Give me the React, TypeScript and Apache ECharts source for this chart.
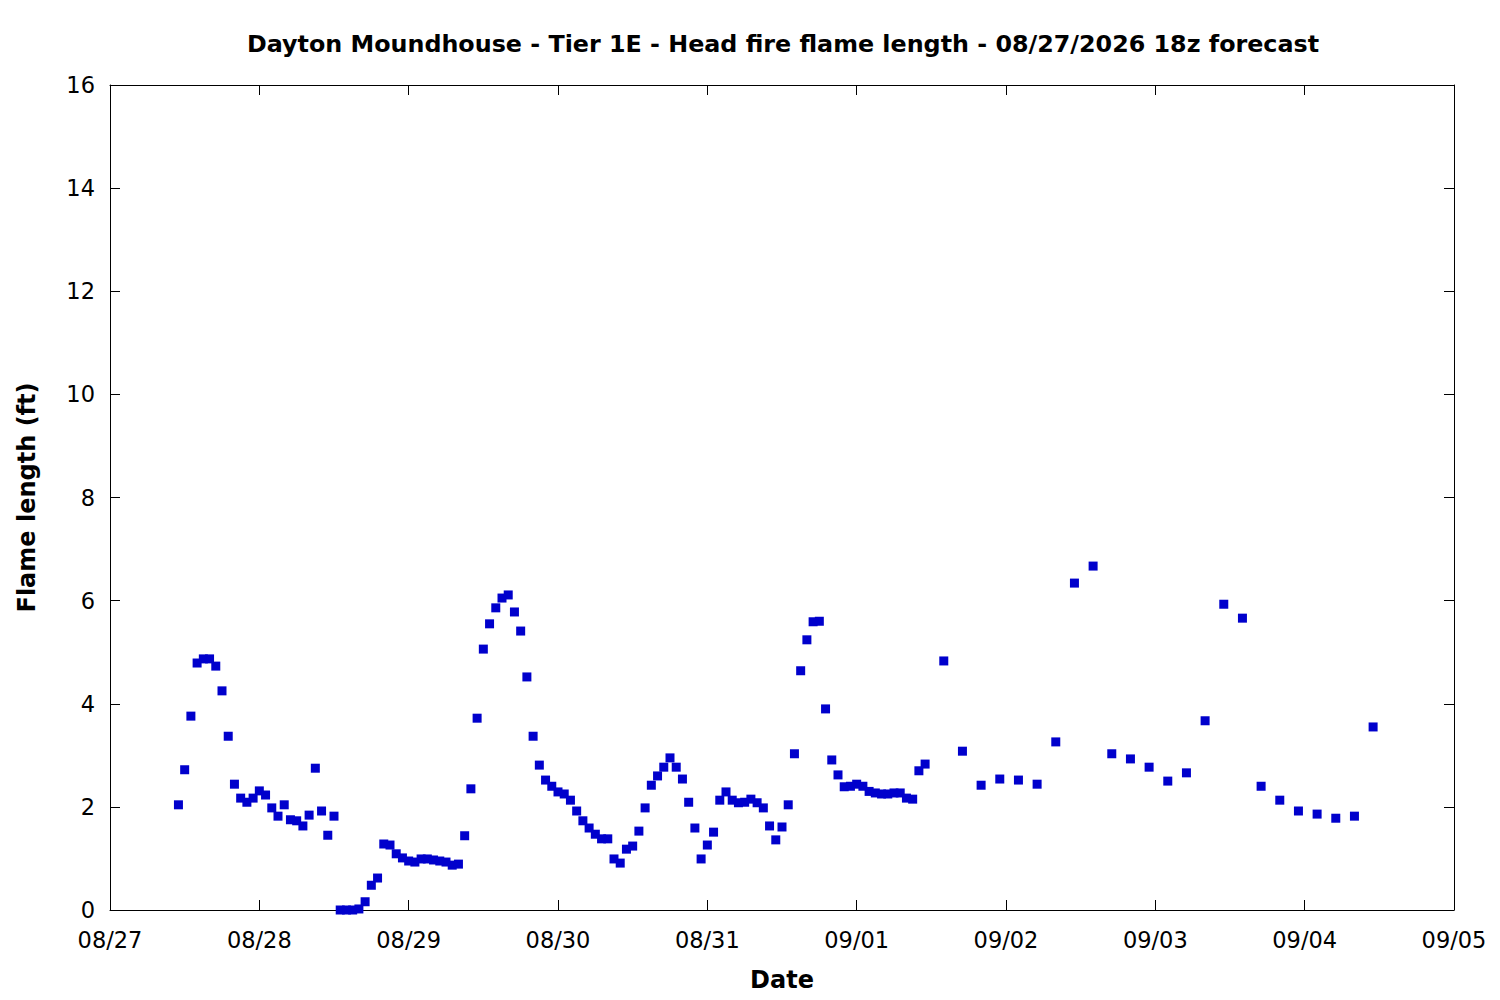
import React, { useEffect, useRef } from "react";
import * as echarts from "echarts";

const TITLE = "Dayton Moundhouse - Tier 1E - Head fire flame length - 08/27/2026 18z forecast";
const X_NAME = "Date";
const Y_NAME = "Flame length (ft)";

// x tick labels, one per day starting at 08/27 00:00 (hour 0)
const DAY_LABELS = ["08/27", "08/28", "08/29", "08/30", "08/31", "09/01", "09/02", "09/03", "09/04", "09/05"];

// hourly forecast, first point at hour 11 after 08/27 00:00
const HOURLY_START_HOUR = 11;
const hourlyValues = [
  2.04, 2.72, 3.76, 4.79, 4.87, 4.87, 4.73, 4.25, 3.37, 2.44,
  2.17, 2.09, 2.17, 2.31, 2.23, 1.98, 1.82, 2.04, 1.75, 1.73,
  1.63, 1.84, 2.75, 1.92, 1.45, 1.82, 0.0, 0.0, 0.0, 0.02,
  0.16, 0.48, 0.62, 1.28, 1.26, 1.09, 1.01, 0.95, 0.93, 0.99,
  0.99, 0.97, 0.95, 0.93, 0.87, 0.89, 1.44, 2.35, 3.72, 5.06,
  5.55, 5.86, 6.05, 6.11, 5.78, 5.41, 4.52, 3.37, 2.81, 2.52,
  2.40, 2.29, 2.25, 2.13, 1.92, 1.73, 1.59, 1.47, 1.38, 1.38,
  0.99, 0.91, 1.18, 1.24, 1.53, 1.98, 2.42, 2.60, 2.77, 2.95,
  2.77, 2.54, 2.09, 1.59, 0.99, 1.26, 1.51, 2.13, 2.29, 2.13,
  2.08, 2.09, 2.15, 2.08, 1.98, 1.63, 1.36, 1.61, 2.04, 3.03,
  4.64, 5.24, 5.59, 5.60, 3.90, 2.91, 2.62, 2.39, 2.40, 2.44,
  2.40, 2.30, 2.27, 2.25, 2.25, 2.27, 2.27, 2.17, 2.15, 2.70,
  2.83,
];

// 3-hourly forecast, first point at hour 134 after 08/27 00:00
const THREE_HOURLY_START_HOUR = 134;
const threeHourlyValues = [
  4.83, 3.08, 2.42, 2.54, 2.52, 2.44, 3.26, 6.34, 6.67, 3.03,
  2.93, 2.77, 2.50, 2.66, 3.67, 5.93, 5.66, 2.40, 2.13, 1.92,
  1.86, 1.78, 1.82, 3.55,
];

const Y_MIN = 0;
const Y_MAX = 16;
const Y_STEP = 2;

const FONT = "DejaVu Sans";

export default function App() {
  const ref = useRef<HTMLDivElement>(null);

  useEffect(() => {
    if (!ref.current) return;
    const chart = echarts.init(ref.current, null, { renderer: "svg" });

    const data: [number, number][] = [];
    hourlyValues.forEach((v, i) => data.push([HOURLY_START_HOUR + i, v]));
    threeHourlyValues.forEach((v, i) => data.push([THREE_HOURLY_START_HOUR + 3 * i, v]));

    const xMax = (DAY_LABELS.length - 1) * 24;
    const labelStyle = { fontFamily: FONT, fontSize: 22.5, color: "#000" };
    const nameStyle = { fontFamily: FONT, fontSize: 24, fontWeight: "bold", color: "#000" };
    const lineStyle = { color: "#000", width: 1 };

    chart.setOption({
      animation: false,
      backgroundColor: "#fff",
      title: {
        text: TITLE,
        left: 778,
        top: 27,
        textAlign: "center",
        textStyle: { fontFamily: FONT, fontSize: 23.8, fontWeight: "bold", color: "#000" },
      },
      grid: { left: 110, top: 85, right: 46, bottom: 90, containLabel: false },
      xAxis: [
        {
          type: "value",
          min: 0,
          max: xMax,
          interval: 24,
          position: "bottom",
          name: X_NAME,
          nameLocation: "middle",
          nameGap: 58,
          nameTextStyle: nameStyle,
          axisLine: { show: true, onZero: false, lineStyle },
          axisTick: { show: true, inside: true, length: 10, lineStyle },
          axisLabel: {
            ...labelStyle,
            margin: 18,
            formatter: (v: number) => DAY_LABELS[Math.round(v / 24)] ?? "",
          },
          splitLine: { show: false },
        },
        {
          type: "value",
          min: 0,
          max: xMax,
          interval: 24,
          position: "top",
          axisLine: { show: true, onZero: false, lineStyle },
          axisTick: { show: true, inside: true, length: 10, lineStyle },
          axisLabel: { show: false },
          splitLine: { show: false },
        },
      ],
      yAxis: [
        {
          type: "value",
          min: Y_MIN,
          max: Y_MAX,
          interval: Y_STEP,
          position: "left",
          name: Y_NAME,
          nameLocation: "middle",
          nameGap: 71,
          nameRotate: 90,
          nameTextStyle: nameStyle,
          axisLine: { show: true, onZero: false, lineStyle },
          axisTick: { show: true, inside: true, length: 10, lineStyle },
          axisLabel: { ...labelStyle, margin: 15 },
          splitLine: { show: false },
        },
        {
          type: "value",
          min: Y_MIN,
          max: Y_MAX,
          interval: Y_STEP,
          position: "right",
          axisLine: { show: true, onZero: false, lineStyle },
          axisTick: { show: true, inside: true, length: 10, lineStyle },
          axisLabel: { show: false },
          splitLine: { show: false },
        },
      ],
      series: [
        {
          type: "scatter",
          xAxisIndex: 0,
          yAxisIndex: 0,
          data,
          symbol: "rect",
          symbolSize: 9,
          clip: false,
          itemStyle: { color: "#0000cc", opacity: 1 },
        },
      ],
    });

    return () => chart.dispose();
  }, []);

  return (
    <div
      ref={ref}
      style={{ position: "fixed", left: 0, top: 0, width: 1500, height: 1000, background: "#fff" }}
    />
  );
}
